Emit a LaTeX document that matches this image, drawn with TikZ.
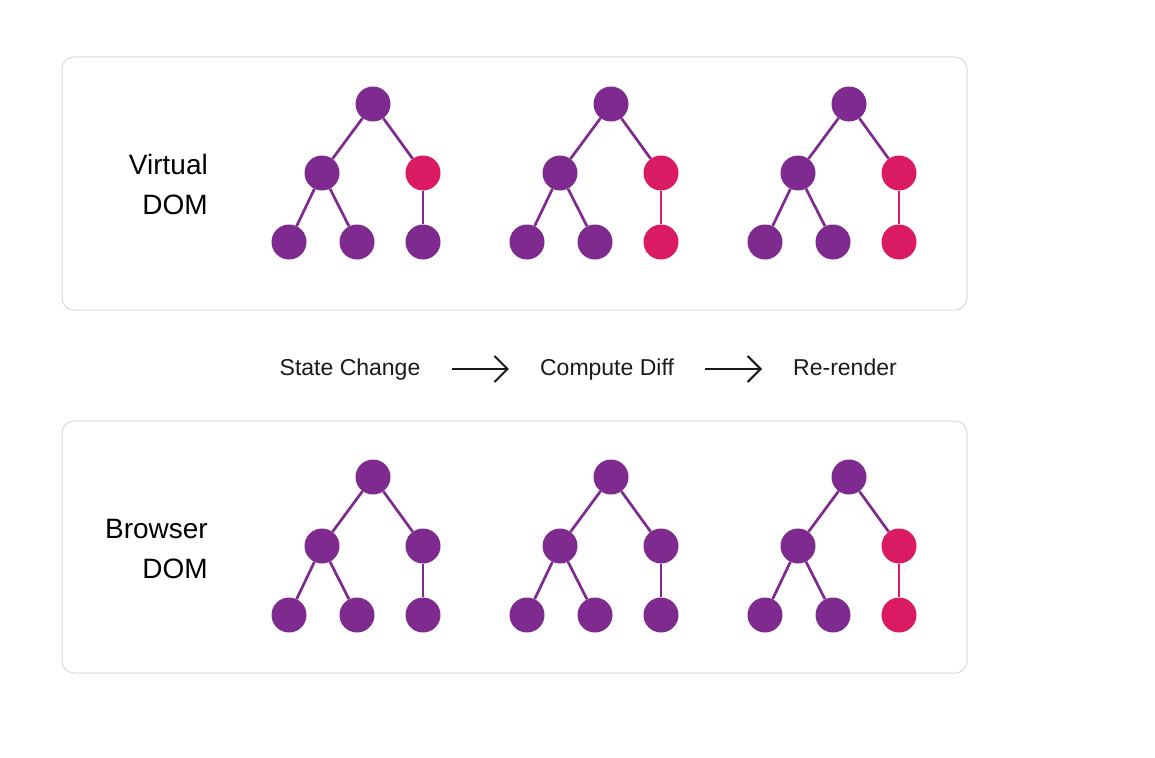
\documentclass[tikz,border=0pt]{standalone}
\usepackage{fontspec}
\setmainfont{Liberation Sans}
\usetikzlibrary{arrows.meta}
\definecolor{vpurple}{HTML}{7E2A8F}
\definecolor{vpink}{HTML}{DA1A62}
\definecolor{boxgray}{HTML}{DADADA}
\definecolor{inkblack}{HTML}{1A1A1A}
\tikzset{
  treedot/.style={circle, fill=#1, minimum size=35pt, inner sep=0pt},
  treedot/.default=vpurple,
  link/.style={line width=2.7pt, draw=#1},
  link/.default=vpurple,
  panel/.style={draw=boxgray, line width=1pt, rounded corners=12pt},
  side/.style={font=\fontsize{28}{34}\selectfont, text=black, anchor=base east, inner sep=0pt},
  stage/.style={font=\fontsize{23}{28}\selectfont, text=inkblack, text height=17pt, text depth=5pt, inner sep=0pt},
  flow/.style={draw=inkblack, line width=2pt, shorten <=31pt, shorten >=31pt,
    -{Straight Barb[length=13pt, width=26pt]}}
}
\begin{document}
\begin{tikzpicture}[x=1pt, y=-1pt]
\useasboundingbox (0,0) rectangle (1155,757);
% the two panels
\draw[panel] (62,57) rectangle (967,310);
\draw[panel] (62,421) rectangle (967,673);
\node[side] (vtop) at (208,174) {Virtual};
\node[side] (vbot) at (208,214) {DOM};
\node[side] (btop) at (208,538) {Browser};
\node[side] (bbot) at (208,578) {DOM};

% trees: name / shift x / shift y / right child / right leaf
\foreach \t/\ox/\oy/\rc/\rl in {va/0/0/vpink/vpurple, vb/238/0/vpink/vpink, vc/476/0/vpink/vpink,
                                ba/0/373/vpurple/vpurple, bb/238/373/vpurple/vpurple, bc/476/373/vpink/vpink}{
\begin{scope}[shift={(\ox,\oy)}]
\node[treedot] (\t-r) at (373,104) {};
\node[treedot] (\t-a) at (322,173) {};
\node[treedot=\rc] (\t-b) at (423,173) {};
\node[treedot] (\t-l1) at (289,242) {};
\node[treedot] (\t-l2) at (357,242) {};
\node[treedot=\rl] (\t-l3) at (423,242) {};
\draw[link] (\t-r) -- (\t-a);
\draw[link] (\t-r) -- (\t-b);
\draw[link] (\t-a) -- (\t-l1);
\draw[link] (\t-a) -- (\t-l2);
\draw[link=\rl] (\t-b) -- (\t-l3);
\end{scope}
}

% middle row
\node[stage] (state) at (350,369) {State Change};
\node[stage] (diff) at (607,369) {Compute Diff};
\node[stage] (render) at (845,369) {Re-render};
\draw[flow] (state) -- (diff);
\draw[flow] (diff) -- (render);
\end{tikzpicture}
\end{document}
